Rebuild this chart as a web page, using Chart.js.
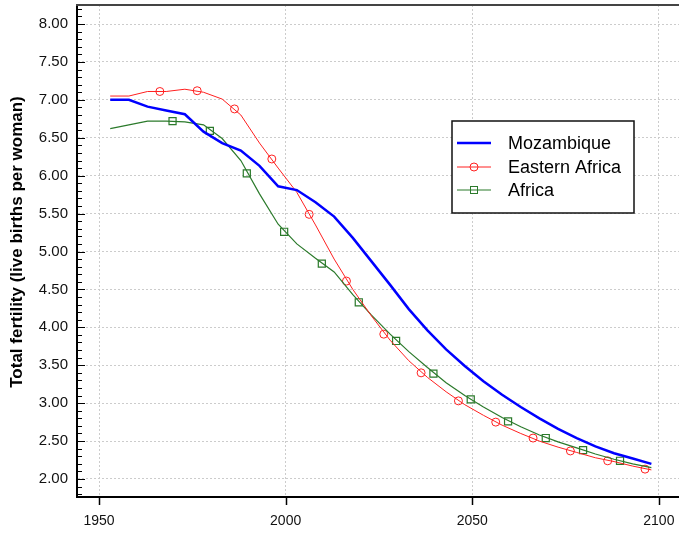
<!DOCTYPE html>
<html><head><meta charset="utf-8">
<script src="https://cdn.jsdelivr.net/npm/chart.js@4.4.1/dist/chart.umd.min.js"></script>
<style>html,body{margin:0;padding:0;background:#fff;}#wrap{width:679px;height:535px;position:relative;}</style>
</head><body><div id="wrap"><canvas id="c" width="679" height="535"></canvas></div>
<script>
const years = [1953,1958,1963,1968,1973,1978,1983,1988,1993,1998,2003,2008,2013,2018,2023,2028,2033,2038,2043,2048,2053,2058,2063,2068,2073,2078,2083,2088,2093,2098];
const mozambique = [7.00,7.00,6.91,6.86,6.81,6.58,6.43,6.33,6.13,5.86,5.81,5.65,5.46,5.18,4.87,4.56,4.24,3.96,3.71,3.49,3.29,3.11,2.95,2.80,2.66,2.54,2.43,2.34,2.27,2.20];
const easternAfrica = [7.05,7.05,7.11,7.11,7.14,7.10,7.01,6.80,6.43,6.10,5.78,5.35,4.90,4.50,4.15,3.83,3.56,3.34,3.15,2.98,2.84,2.71,2.60,2.50,2.42,2.35,2.28,2.23,2.17,2.12];
const africa = [6.62,6.67,6.72,6.72,6.71,6.67,6.49,6.20,5.76,5.36,5.10,4.91,4.73,4.43,4.16,3.91,3.68,3.47,3.27,3.10,2.95,2.81,2.69,2.58,2.49,2.41,2.33,2.26,2.20,2.15];
const eaMarkerYears = [1966.3,1976.3,1986.3,1996.3,2006.3,2016.3,2026.3,2036.3,2046.3,2056.3,2066.3,2076.3,2086.3,2096.3];
const eaMarkerValues = [7.11,7.12,6.88,6.22,5.49,4.61,3.91,3.40,3.03,2.75,2.54,2.37,2.24,2.13];
const afMarkerYears = [1969.7,1979.7,1989.6,1999.6,2009.7,2019.6,2029.6,2039.6,2049.6,2059.6,2069.7,2079.7,2089.6];
const afMarkerValues = [6.72,6.59,6.03,5.26,4.84,4.33,3.82,3.39,3.05,2.76,2.54,2.38,2.24];
const xTicks = [1950,2000,2050,2100];
const yTicks = [2.0,2.5,3.0,3.5,4.0,4.5,5.0,5.5,6.0,6.5,7.0,7.5,8.0];
const seriesNames = ['Mozambique','Eastern Africa','Africa'];
const yTitle = 'Total fertility (live births per woman)';

const FONT = 'Liberation Sans, Arial, sans-serif';
const BLUE = '#0000ff', RED = '#ff2020', GREEN = '#2b7a2b';
const mk = (xs, ys) => xs.map((x, i) => ({x: x, y: ys[i]}));

const legendItems = [
  {name: seriesNames[0], color: BLUE, width: 2.5, marker: null},
  {name: seriesNames[1], color: RED, width: 1, marker: 'circle'},
  {name: seriesNames[2], color: GREEN, width: 1.2, marker: 'rect'}
];

const custom = {
  id: 'custom',
  beforeDatasetsDraw(chart) {
    const {ctx, chartArea: a, scales: {x, y}} = chart;
    ctx.save();
    ctx.strokeStyle = '#000'; ctx.lineWidth = 1;
    for (let k = Math.ceil(y.min * 10); k <= Math.floor(y.max * 10); k++) {
      const py = Math.round(y.getPixelForValue(k / 10)) + 0.5;
      const major = k % 5 === 0;
      ctx.beginPath(); ctx.moveTo(a.left, py); ctx.lineTo(a.left + (major ? 8 : 5), py); ctx.stroke();
    }
    ctx.lineWidth = 1.5;
    xTicks.forEach(v => {
      const px = Math.round(x.getPixelForValue(v)) + 0.5;
      ctx.beginPath(); ctx.moveTo(px, a.bottom); ctx.lineTo(px, a.bottom + 8); ctx.stroke();
    });
    ctx.strokeStyle = '#444'; ctx.lineWidth = 2;
    ctx.beginPath(); ctx.moveTo(a.left - 1, a.top); ctx.lineTo(a.right, a.top); ctx.stroke();
    ctx.restore();
  },
  afterDraw(chart) {
    const ctx = chart.ctx;
    ctx.save();
    ctx.translate(17, 242); ctx.rotate(-Math.PI / 2);
    ctx.font = 'bold 17px ' + FONT; ctx.fillStyle = '#000';
    ctx.textAlign = 'center'; ctx.textBaseline = 'middle';
    ctx.fillText(yTitle, 0, 0);
    ctx.restore();
    ctx.save();
    const bx = 452, by = 121, bw = 182, bh = 92;
    ctx.fillStyle = '#fff'; ctx.fillRect(bx, by, bw, bh);
    ctx.strokeStyle = '#111'; ctx.lineWidth = 1.5; ctx.strokeRect(bx, by, bw, bh);
    const rows = [143, 167, 190];
    ctx.font = '18px ' + FONT; ctx.textBaseline = 'middle'; ctx.textAlign = 'left';
    legendItems.forEach((it, i) => {
      const yy = rows[i];
      ctx.strokeStyle = it.color; ctx.lineWidth = it.width;
      ctx.beginPath(); ctx.moveTo(457, yy); ctx.lineTo(491, yy); ctx.stroke();
      ctx.lineWidth = 1;
      if (it.marker === 'circle') { ctx.beginPath(); ctx.arc(474, yy, 4, 0, Math.PI * 2); ctx.stroke(); }
      if (it.marker === 'rect') { ctx.strokeRect(470.5, yy - 3.5, 7, 7); }
      ctx.fillStyle = '#000'; ctx.fillText(it.name, 508, yy + 1);
    });
    ctx.restore();
  }
};

new Chart(document.getElementById('c'), {
  type: 'line',
  data: {datasets: [
    {label: seriesNames[0], data: mk(years, mozambique), borderColor: BLUE, borderWidth: 2.5, pointRadius: 0, tension: 0, fill: false},
    {label: seriesNames[1], data: mk(years, easternAfrica), borderColor: RED, borderWidth: 1, pointRadius: 0, tension: 0, fill: false},
    {label: seriesNames[2], data: mk(years, africa), borderColor: GREEN, borderWidth: 1.2, pointRadius: 0, tension: 0, fill: false},
    {label: seriesNames[1] + ' markers', data: mk(eaMarkerYears, eaMarkerValues), showLine: false, pointStyle: 'circle', pointRadius: 4, pointBorderColor: RED, pointBackgroundColor: 'rgba(0,0,0,0)', pointBorderWidth: 1, borderColor: RED},
    {label: seriesNames[2] + ' markers', data: mk(afMarkerYears, afMarkerValues), showLine: false, pointStyle: 'rect', pointRadius: 5, pointBorderColor: GREEN, pointBackgroundColor: 'rgba(0,0,0,0)', pointBorderWidth: 1.2, borderColor: GREEN}
  ]},
  options: {
    responsive: false, animation: false, devicePixelRatio: 1,
    layout: {autoPadding: false, padding: {top: 5, right: 0, left: 0, bottom: 0}},
    plugins: {legend: {display: false}, tooltip: {enabled: false}, title: {display: false}},
    scales: {
      x: {
        type: 'linear', min: 1944.1, max: 2105.4,
        afterBuildTicks: s => { s.ticks = xTicks.map(v => ({value: v})); },
        afterFit: s => { s.height = 38; s.paddingLeft = 0; s.paddingRight = 0; },
        grid: {color: '#cccccc', lineWidth: 1, drawTicks: true, tickLength: 16, tickColor: 'rgba(0,0,0,0)', tickWidth: 0},
        border: {display: true, color: '#000', width: 2, dash: [2, 2]},
        ticks: {padding: 0, color: '#111', font: {family: FONT, size: 14}, maxRotation: 0, autoSkip: false, callback: v => String(v)}
      },
      y: {
        type: 'linear', min: 1.7626, max: 8.2506,
        afterBuildTicks: s => { s.ticks = yTicks.map(v => ({value: v})); },
        afterFit: s => { s.width = 77; s.paddingTop = 0; s.paddingBottom = 0; },
        grid: {color: '#cccccc', lineWidth: 1, drawTicks: false},
        border: {display: true, color: '#000', width: 2, dash: [2, 2]},
        ticks: {padding: 9, color: '#111', font: {family: FONT, size: 15}, autoSkip: false, callback: v => Number(v).toFixed(2)}
      }
    }
  },
  plugins: [custom]
});
</script></body></html>
